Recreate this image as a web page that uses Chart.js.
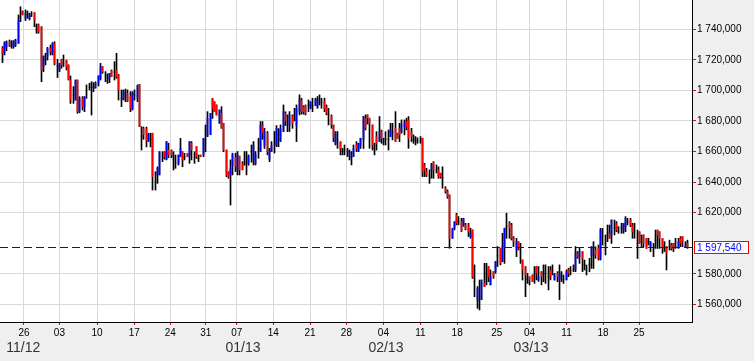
<!DOCTYPE html>
<html><head><meta charset="utf-8">
<script src="https://cdn.jsdelivr.net/npm/chart.js@4"></script>
<style>html,body{margin:0;padding:0;background:#efefef}canvas{display:block}</style>
</head><body>
<canvas id="c" width="754" height="361"></canvas>
<script>
// prices in thousands
const highs=[
1728.7,1731.9,1732.4,1733.0,1732.6,1732.6,1733.5,1749.4,1754.8,1752.0,
1752.7,1752.0,1750.5,1751.6,1750.9,1743.5,1743.5,1741.7,1722.5,1724.3,
1728.2,1729.7,1731.3,1731.9,1720.4,1717.7,1720.4,1723.2,1719.9,1716.7,
1709.5,1702.5,1706.8,1706.8,1695.9,1695.9,1695.9,1703.6,1704.6,1705.7,
1705.1,1705.7,1709.5,1717.7,1715.6,1712.3,1710.8,1711.2,1713.4,1718.8,
1724.3,
1710.5,1700.3,1700.3,1700.9,1700.3,1699.2,1699.2,1700.3,1703.6,1704.0,
1676.3,1676.0,1676.0,1671.9,1672.0,1672.0,1646.8,1650.0,1659.9,1659.9,
1659.9,1666.5,1665.4,1661.0,1659.9,1657.7,1657.7,1668.6,1659.9,1658.8,
1658.8,1666.5,1666.5,1659.9,1663.2,1657.7,1657.7,1668.6,1677.4,1686.1,
1685.0,1694.8,1692.6,1690.5,1687.2,1689.4,1678.5,1661.0,1646.8,1654.5,
1658.9,1658.9,1660.0,1657.0,1653.4,1660.0,1660.0,1657.8,1664.3,1666.5,
1660.0,1668.7,1679.6,1679.6,1675.2,1673.1,1662.1,1666.5,1673.1,1677.0,
1675.0,1677.4,1690.5,1686.0,1684.0,1686.1,1684.0,1688.3,1690.5,1697.1,
1694.9,1690.0,1690.5,1693.8,1692.7,1694.9,1694.9,1696.0,1697.1,1694.9,
1694.9,1690.5,1688.3,1684.0,1677.4,1673.1,1673.1,1666.5,1662.1,1664.3,
1662.1,
1661.0,1660.0,1664.3,1666.5,1665.4,1668.7,1682.9,1684.0,1684.0,1681.8,
1677.4,1665.4,1673.0,1682.9,1674.0,1668.7,1673.0,1674.1,1678.5,1678.5,
1686.1,1672.0,1678.5,1680.7,1680.7,1681.8,1682.9,1675.2,1670.9,1669.8,
1669.0,1669.8,1668.7,1652.3,1649.0,1648.0,1652.3,1653.4,1651.2,1650.0,
1645.8,1650.0,1637.0,1634.9,1631.6,1609.8,1614.1,1619.6,1617.4,1616.3,
1616.3,
1613.0,1613.0,1609.8,1608.7,1585.8,1571.6,1575.9,1575.9,1586.8,1586.8,
1584.7,1582.5,1581.4,1588.0,1597.8,1596.7,1606.5,1609.8,1619.6,1614.1,
1613.0,1604.3,1603.2,1601.0,1599.9,1589.0,1584.7,1580.3,1578.1,1579.2,
1584.7,1584.7,1584.7,1581.4,1585.8,1585.8,1584.7,1584.7,1585.8,1580.3,
1581.4,1585.8,1581.4,1579.2,1582.5,1583.6,1584.7,1585.8,1597.8,
1594.5,1596.6,1594.5,1589.0,1585.7,1590.1,1597.7,1601.0,1597.7,1598.8,
1609.7,1609.7,1605.4,1611.9,1611.9,1615.2,1615.2,1614.1,1610.8,1613.0,
1613.0,1617.4,1616.3,1616.3,1613.0,1613.0,1608.6,1607.5,1605.4,1605.4,
1603.2,1603.2,1601.0,1599.9,1608.6,1608.6,1607.5,1603.2,1601.0,1597.7,
1602.0,1599.9,1599.9,1603.2,1603.2,1604.3,1604.3,1601.0,1602.0];
const lows=[
1718.2,1723.2,1726.0,1728.7,1727.6,1727.6,1728.7,1730.8,1745.0,1749.4,
1745.7,1747.2,1746.1,1748.3,1741.7,1737.4,1737.4,1705.7,1712.3,1716.7,
1719.9,1723.2,1723.2,1716.7,1708.4,1712.3,1714.5,1715.6,1713.4,1706.8,
1691.5,1691.5,1693.7,1685.0,1685.4,1687.2,1686.1,1694.8,1700.3,1683.9,
1699.2,1701.4,1702.9,1706.8,1711.2,1705.7,1704.6,1705.1,1709.0,1706.8,
1707.9,
1693.7,1689.4,1693.7,1692.6,1692.6,1686.1,1687.2,1693.7,1692.6,1676.3,
1661.0,1668.0,1663.0,1666.5,1663.0,1634.8,1634.8,1639.2,1644.6,1653.4,
1655.0,1654.5,1656.0,1656.0,1647.9,1649.0,1651.2,1656.6,1650.1,1654.5,
1656.6,1652.3,1654.5,1652.3,1655.5,1653.4,1656.6,1656.6,1659.9,1669.7,
1671.0,1681.7,1686.0,1683.9,1678.5,1675.2,1659.9,1643.5,1642.5,1625.0,
1644.7,1646.9,1644.7,1644.7,1648.0,1651.0,1644.7,1651.0,1653.0,1651.2,
1651.2,1655.6,1660.0,1668.0,1662.0,1657.8,1653.4,1660.0,1659.0,1663.2,
1663.2,1666.5,1673.0,1677.0,1673.0,1673.1,1675.2,1680.0,1666.5,1684.0,
1684.5,1684.5,1684.0,1686.1,1688.0,1686.1,1690.0,1688.3,1690.5,1688.3,
1686.1,1684.0,1677.4,1675.2,1666.5,1664.3,1662.1,1657.8,1657.8,1657.8,
1656.7,
1654.5,1651.2,1656.7,1660.0,1660.0,1662.0,1662.0,1674.1,1678.0,1662.1,
1661.0,1657.8,1661.0,1666.5,1665.4,1664.3,1664.3,1661.0,1669.8,1667.6,
1666.5,1668.7,1666.5,1672.0,1670.9,1674.1,1662.1,1666.5,1665.4,1664.3,
1665.4,1665.4,1643.6,1643.6,1643.6,1639.2,1642.5,1642.5,1646.0,1642.5,
1642.5,1636.0,1632.7,1629.4,1596.7,1603.2,1608.7,1612.0,1612.0,1607.6,
1611.0,
1608.7,1604.3,1603.2,1577.0,1565.0,1557.4,1556.3,1563.0,1571.6,1572.7,
1574.8,1572.7,1577.0,1580.3,1584.7,1585.8,1587.9,1586.8,1603.2,1603.2,
1602.1,1597.8,1591.2,1595.6,1586.8,1575.9,1565.0,1573.7,1572.7,1574.8,
1573.7,1576.0,1575.0,1572.7,1574.8,1573.7,1569.4,1576.0,1579.2,1575.9,
1574.8,1563.0,1574.8,1573.7,1576.0,1578.1,1579.2,1581.4,1581.4,
1590.1,1586.8,1581.4,1582.5,1579.2,1581.4,1583.5,1583.5,1590.1,1589.0,
1589.0,1598.8,1592.3,1601.0,1603.2,1599.9,1605.4,1607.5,1606.5,1606.5,
1606.5,1607.5,1611.9,1610.8,1603.2,1603.2,1590.0,1599.9,1597.7,1597.7,
1596.6,1598.8,1594.5,1591.2,1596.6,1596.6,1596.6,1593.4,1594.5,1582.5,
1595.5,1595.5,1594.5,1596.6,1596.6,1597.7,1597.7,1597.7,1596.6];
const opens=[
1727.6,1724.3,1728.6,1731.9,1730.0,1728.6,1729.7,1730.8,1748.0,1751.5,
1747.2,1750.0,1747.0,1750.0,1750.9,1740.0,1742.8,1741.7,1715.6,1720.0,
1722.1,1727.6,1724.3,1730.8,1716.0,1713.4,1719.9,1718.0,1719.5,1716.7,
1706.8,1697.0,1693.7,1706.8,1686.1,1694.8,1689.4,1700.0,1702.0,1700.0,
1702.0,1702.0,1704.6,1707.9,1715.6,1710.0,1708.0,1707.9,1712.9,1712.0,
1713.4,
1710.0,1695.0,1694.0,1697.0,1698.0,1696.0,1688.0,1697.0,1694.8,1703.6,
1670.0,1675.0,1675.0,1667.0,1668.0,1671.9,1640.0,1645.0,1645.0,1657.0,
1659.9,1655.0,1661.0,1661.0,1655.0,1653.0,1652.0,1657.0,1659.9,1656.0,
1658.8,1656.6,1665.4,1656.0,1663.2,1655.5,1657.7,1657.7,1668.0,1670.0,
1671.0,1694.8,1692.6,1690.5,1678.5,1685.0,1678.5,1661.0,1646.8,1644.6,
1650.5,1656.0,1648.0,1657.0,1652.0,1655.0,1652.0,1652.0,1660.0,1655.0,
1652.0,1662.0,1660.0,1677.0,1664.0,1672.0,1655.0,1660.0,1665.0,1664.0,
1668.0,1667.0,1673.0,1685.0,1680.0,1677.0,1683.0,1684.0,1677.0,1686.0,
1693.8,1689.0,1690.0,1690.0,1688.5,1690.0,1690.0,1689.0,1693.8,1692.0,
1693.0,1689.0,1684.0,1683.0,1677.0,1665.0,1668.0,1666.0,1660.0,1661.0,
1660.0,
1657.0,1656.0,1656.7,1664.3,1660.0,1664.3,1667.6,1681.8,1684.0,1681.8,
1677.4,1662.0,1669.8,1666.5,1673.0,1666.5,1668.0,1668.0,1669.8,1673.0,
1675.2,1672.0,1675.2,1673.0,1676.3,1679.6,1680.7,1673.0,1668.0,1667.0,
1667.0,1667.0,1668.7,1651.2,1646.9,1644.0,1647.9,1653.4,1648.0,1647.9,
1645.8,1643.0,1636.0,1633.8,1631.6,1603.2,1609.8,1618.5,1614.0,1614.1,
1611.9,
1612.0,1612.0,1604.3,1608.7,1575.0,1562.8,1565.0,1563.0,1574.0,1580.0,
1584.7,1572.7,1581.4,1581.4,1592.0,1596.7,1589.0,1597.8,1611.0,1613.0,
1611.9,1603.2,1595.6,1601.0,1595.0,1589.0,1584.7,1577.0,1578.1,1579.2,
1580.0,1584.7,1576.0,1581.4,1580.0,1580.0,1578.0,1582.5,1582.0,1575.9,
1580.3,1576.0,1578.0,1576.0,1576.0,1582.5,1582.0,1583.0,1582.5,
1593.4,1591.2,1594.5,1586.0,1582.0,1586.0,1592.3,1592.0,1595.5,1596.6,
1590.1,1604.0,1600.0,1606.0,1606.5,1605.4,1610.0,1613.0,1608.0,1610.0,
1608.6,1610.8,1614.0,1615.2,1611.9,1608.0,1600.0,1607.5,1601.0,1605.4,
1603.2,1601.0,1597.7,1596.0,1602.0,1608.6,1607.5,1603.2,1597.0,1597.7,
1598.0,1598.8,1599.9,1600.0,1597.7,1603.2,1604.3,1597.7,1600.0];
const closes=[
1724.3,1730.8,1731.9,1729.7,1730.0,1731.9,1733.0,1746.1,1748.0,1749.6,
1750.5,1750.0,1749.5,1750.0,1746.1,1740.0,1738.5,1713.4,1722.5,1720.0,
1727.6,1725.4,1730.8,1717.7,1716.0,1717.3,1716.7,1718.0,1715.6,1707.0,
1693.7,1697.0,1706.8,1686.1,1694.8,1689.4,1695.9,1700.0,1702.0,1700.0,
1702.0,1704.6,1709.5,1715.6,1712.3,1710.0,1708.0,1711.2,1709.0,1712.0,
1709.0,
1700.3,1695.0,1699.5,1697.0,1693.0,1688.3,1698.0,1697.0,1703.0,1676.5,
1670.0,1671.0,1667.0,1671.0,1668.0,1643.5,1640.0,1649.0,1659.9,1657.0,
1656.6,1666.5,1658.0,1657.7,1655.0,1653.0,1657.7,1662.0,1654.5,1656.0,
1656.6,1666.5,1661.0,1656.0,1656.6,1655.5,1656.8,1668.6,1668.0,1681.7,
1685.0,1688.3,1686.1,1683.9,1687.2,1675.2,1661.0,1644.6,1643.5,1649.0,
1658.0,1650.0,1658.0,1648.0,1648.0,1655.0,1652.0,1657.0,1660.0,1664.0,
1658.0,1662.0,1677.0,1672.0,1673.0,1660.0,1661.0,1664.0,1665.0,1675.0,
1668.0,1675.0,1686.0,1680.0,1680.0,1684.0,1678.0,1684.0,1688.3,1694.0,
1686.1,1686.0,1685.0,1690.0,1692.0,1690.0,1694.0,1693.8,1693.8,1692.0,
1688.0,1685.0,1684.0,1677.4,1669.0,1672.0,1668.0,1662.0,1660.0,1661.0,
1660.0,
1659.5,1656.0,1662.0,1662.1,1665.4,1668.7,1682.9,1675.2,1681.8,1678.5,
1664.3,1662.0,1665.4,1673.0,1668.7,1666.5,1668.0,1668.0,1674.1,1673.0,
1666.5,1668.7,1670.9,1677.4,1678.5,1676.3,1668.7,1669.8,1668.0,1667.0,
1667.0,1667.0,1646.9,1647.9,1644.7,1644.0,1651.2,1647.9,1648.0,1643.6,
1643.6,1643.0,1633.8,1630.5,1603.2,1609.8,1613.9,1613.0,1614.0,1607.6,
1616.3,
1609.5,1607.6,1606.5,1578.1,1575.0,1570.5,1565.0,1575.9,1571.6,1580.0,
1578.1,1578.0,1578.1,1588.0,1592.0,1586.8,1597.8,1609.8,1611.0,1609.8,
1603.2,1601.0,1601.0,1596.7,1595.0,1582.5,1579.2,1577.0,1575.9,1574.8,
1580.0,1580.3,1578.1,1578.1,1580.0,1580.0,1578.0,1578.1,1582.0,1579.2,
1578.1,1580.3,1578.0,1576.0,1581.4,1580.3,1582.0,1583.0,1593.4,
1591.2,1594.5,1590.1,1586.0,1582.0,1586.0,1597.7,1592.0,1592.3,1590.1,
1608.6,1604.0,1600.0,1606.0,1603.2,1615.2,1610.0,1608.6,1608.0,1610.0,
1613.0,1616.3,1614.0,1611.9,1607.5,1608.0,1600.0,1599.9,1601.0,1599.9,
1596.6,1601.0,1601.0,1596.0,1602.0,1605.4,1603.2,1597.7,1597.0,1593.4,
1598.0,1596.6,1596.6,1600.0,1601.0,1599.9,1601.0,1599.0,1597.54];

const yTicks=[1560,1580,1620,1640,1660,1680,1700,1720,1740];
const weekLabels=['26','03','10','17','24','31','07','14','21','28','04','11','18','25','04','11','18','25'];
const weekBars=[9.5,25.0,41.5,57.8,73.6,89.1,102.7,118.7,134.8,150.7,166.9,183.1,199.2,216.6,230.9,247.1,263.1,278.9];
const monthLabels=['11/12','01/13','02/13','03/13'];
const monthBars=[9.2,105.4,168.0,231.6];
const lastPrice=1597.54;

function fmt(v){
  const u=Math.round(v*1000);
  const m=Math.floor(u/1e6), t=Math.floor(u/1000)%1000, r=u%1000;
  return m+' '+String(t).padStart(3,'0')+','+String(r).padStart(3,'0');
}
const N=highs.length;
const pxPer=685/(N-1);
const FONT='"Liberation Sans", Arial, sans-serif';

const bgPlugin={id:'bg',beforeDraw(chart){
  const {ctx,chartArea:a}=chart;
  ctx.save();ctx.fillStyle='#efefef';ctx.fillRect(0,0,chart.width,chart.height);
  ctx.fillStyle='#ffffff';ctx.fillRect(a.left,a.top,a.right-a.left,a.bottom-a.top);ctx.restore();
}};
// snap each bar element produced by the library to a whole pixel column
const snapPlugin={id:'snap',beforeDatasetsDraw(chart){
  chart.data.datasets.forEach((d,i)=>{
    chart.getDatasetMeta(i).data.forEach(el=>{ el.x=Math.floor(el.x)+0.5; });
  });
}};
const overlay={id:'overlay',afterDraw(chart){
  const {ctx,chartArea:a,scales:{x,y}}=chart;
  const py=Math.round(y.getPixelForValue(lastPrice))+0.5;
  ctx.save();
  ctx.strokeStyle='#0000ff';ctx.lineWidth=1;ctx.setLineDash([8,4]);
  ctx.beginPath();ctx.moveTo(a.left,py);ctx.lineTo(a.right,py);ctx.stroke();
  ctx.setLineDash([]);
  ctx.fillStyle='#ffffff';ctx.fillRect(694,py-6,54,12);
  ctx.strokeStyle='#ff0000';ctx.strokeRect(694.5,py-6,54,12);
  ctx.fillStyle='#0000ff';ctx.font='10px '+FONT;ctx.textAlign='left';ctx.textBaseline='middle';
  ctx.fillText(fmt(lastPrice),697,py+0.5);
  ctx.fillStyle='#333333';ctx.font='14px '+FONT;ctx.textAlign='center';
  monthLabels.forEach((m,i)=>ctx.fillText(m,x.getPixelForValue(monthBars[i]),348));
  ctx.restore();
}};

const idx=[...Array(N).keys()];
new Chart(document.getElementById('c'),{
  type:'bar',
  data:{datasets:[
    {label:'body',data:idx.map(i=>({x:i,y:[opens[i],closes[i]]})),grouped:false,barThickness:1,
     backgroundColor:c=>{const i=c.dataIndex;return closes[i]>opens[i]?'#0000ff':(closes[i]<opens[i]?'#ff0000':'#000000');},borderWidth:0},
    {label:'range',data:idx.map(i=>({x:i,y:[lows[i],highs[i]]})),grouped:false,barThickness:1,backgroundColor:'#000000',borderWidth:0}
  ]},
  options:{
    responsive:false,animation:false,devicePixelRatio:1,
    layout:{padding:0},
    plugins:{legend:{display:false},tooltip:{enabled:false}},
    scales:{
      x:{type:'linear',offset:false,min:-2.3/pxPer,max:689.7/pxPer,
        grid:{offset:false,color:'#d9d9d9',tickColor:'#ff0000',tickLength:3,lineWidth:1},
        border:{color:'#000000',width:1},
        ticks:{font:{family:FONT,size:10},color:'#000000',padding:2,maxRotation:0,autoSkip:false,
          callback:(v)=>{const k=weekBars.indexOf(v);return k>=0?weekLabels[k]:'';}},
        afterBuildTicks:s=>{s.ticks=weekBars.map(v=>({value:v}));},
        afterFit:s=>{s.height=39;s.paddingLeft=0;s.paddingRight=0;}
      },
      y:{position:'right',min:1548.42,max:1759.18,
        grid:{color:'#d9d9d9',tickColor:'#ff0000',tickLength:4,lineWidth:1},
        border:{color:'#000000',width:1},
        ticks:{font:{family:FONT,size:10},color:'#000000',padding:1,callback:v=>fmt(v)},
        afterBuildTicks:s=>{s.ticks=yTicks.map(v=>({value:v}));},
        afterFit:s=>{s.width=62;s.paddingTop=0;s.paddingBottom=0;}
      }
    }
  },
  plugins:[bgPlugin,snapPlugin,overlay]
});
</script>
</body></html>
